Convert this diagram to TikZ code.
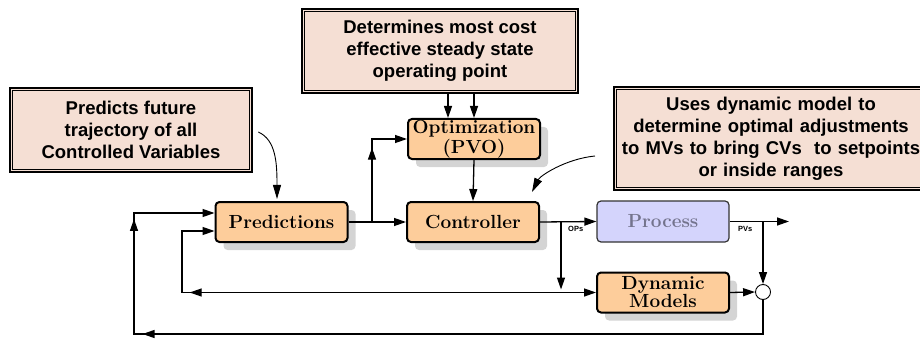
\documentclass[tikz,border=0pt]{standalone}
\usepackage{fontspec}
\newfontfamily\notefont{Liberation Sans}
\usetikzlibrary{arrows.meta,shadows,decorations.markings,calc}

\definecolor{blockfill}{RGB}{253,205,155}
\definecolor{notefill}{RGB}{245,223,212}
\definecolor{procfill}{RGB}{212,212,252}
\definecolor{proctext}{RGB}{115,115,140}
\definecolor{shadowgray}{RGB}{212,212,212}

\tikzset{
	block/.style = {draw, line width=2pt, rounded corners=4pt, fill=blockfill,
		minimum width=132pt, minimum height=40pt, align=center, inner sep=1pt,
		font=\fontsize{19}{18}\selectfont\bfseries,
		drop shadow={shadow xshift=8pt, shadow yshift=-8pt, fill=shadowgray, opacity=1}},
	procblock/.style = {draw=black!80, line width=1.2pt, rounded corners=4pt, fill=procfill,
		minimum width=132pt, minimum height=41pt, text=proctext,
		font=\fontsize{19}{18}\selectfont\bfseries},
	notebox/.style = {draw, line width=2.6pt, fill=notefill, align=center,
		font=\notefont\fontsize{18.5}{22}\selectfont\bfseries},
	sig/.style = {line width=1.3pt, -{Triangle[length=12pt,width=8pt]}},
	ptr/.style = {line width=0.9pt, -{Triangle[length=14pt,width=8pt]}},
	midtip/.style = {postaction={decorate, decoration={markings,
		mark=at position #1 with {\arrow{Triangle[length=12pt,width=8pt]}}}}},
	smalllbl/.style = {font=\notefont\fontsize{7.5}{7.5}\selectfont\bfseries, inner sep=1pt}
}

\begin{document}
\begin{tikzpicture}[x=1pt, y=-1pt]
	\useasboundingbox (0,0) rectangle (920,339);
	\clip (0,0) rectangle (920,339);

	% notes
	\node[notebox, minimum width=242pt, minimum height=84pt] (pnote) at (131,130)
		{Predicts future\\trajectory of all\\Controlled Variables};
	\node[notebox, minimum width=276pt, minimum height=84pt] (tnote) at (440,51)
		{Determines most cost\\effective steady state\\operating point};
	\node[notebox, minimum width=314pt, minimum height=103pt, text width=307pt] (rnote) at (771,138.5)
		{Uses dynamic model to\\determine optimal adjustments\\to MVs to bring CVs\ \ to setpoints\\or inside ranges};
	\foreach \n in {pnote,tnote,rnote}
		\draw[line width=0.7pt] ($(\n.north west)+(4,4)$) rectangle ($(\n.south east)+(-4,-4)$);

	% blocks
	\node[block] (pred) at (281.5,222) {Predictions};
	\node[block] (ctrl) at (473,222) {Controller};
	\node[block, font=\fontsize{19}{20}\selectfont\bfseries] (opt) at (474,139) {Optimization\\(PVO)};
	\node[procblock] (proc) at (663,221.5) {Process};
	\node[block] (dyn) at (663,292.5) {Dynamic\\Models};
	\node[draw, circle, line width=0.9pt, fill=white, minimum size=15pt, inner sep=0pt] (sum) at (763,292) {};

	\coordinate (psplit) at (372,222);
	\coordinate (osplit) at (561,222);
	\coordinate (vsplit) at (763,221.5);
	\coordinate (pvout) at (789,221.5);
	\coordinate (rptr) at (595,156);

	% signals
	\draw[sig] (pred.east) -- (ctrl.west);
	\draw[sig, midtip=0.63] (psplit) -- (psplit |- opt.west) -- (opt.west);
	\draw[sig] (opt.south) -- (ctrl.north);
	\draw[sig] ([xshift=8pt]tnote.south) -- ([xshift=8pt]tnote.south |- opt.north);
	\draw[sig] (tnote.south -| opt.north) -- (opt.north);
	\draw[sig] (ctrl.east) -- (proc.west);
	\draw[sig] (osplit) -- ([yshift=3pt]osplit |- dyn.west);
	\draw[sig] (osplit |- dyn.west) -- (dyn.west);
	\draw[sig, midtip=0.785] (osplit |- dyn.west) -- (182,292.5) -- (182,231) -- ([yshift=-9pt]pred.west);
	\draw[sig] (proc.east) -- (pvout);
	\draw[sig] (vsplit) -- (sum.north);
	\draw[sig] (dyn.east) -- (sum.west);
	\draw[sig, midtip=0.757, midtip=0.9] (sum.south) -- (763,334) -- (134,334) -- (134,213) -- ([yshift=9pt]pred.west);

	\node[smalllbl, anchor=north west] at (567,225) {OPs};
	\node[smalllbl, anchor=north west] at (737,225) {PVs};

	% pointers
	\draw[ptr] ($(pnote.east)+(5,2)$) .. controls +(18,8) and +(0,-35) .. ([xshift=-4.5pt, yshift=2pt]pred.north);
	\draw[ptr] (rptr) .. controls +(-30,3) and +(8,-16) .. ([shift={(-8,-9)}]ctrl.north east);
\end{tikzpicture}
\end{document}
